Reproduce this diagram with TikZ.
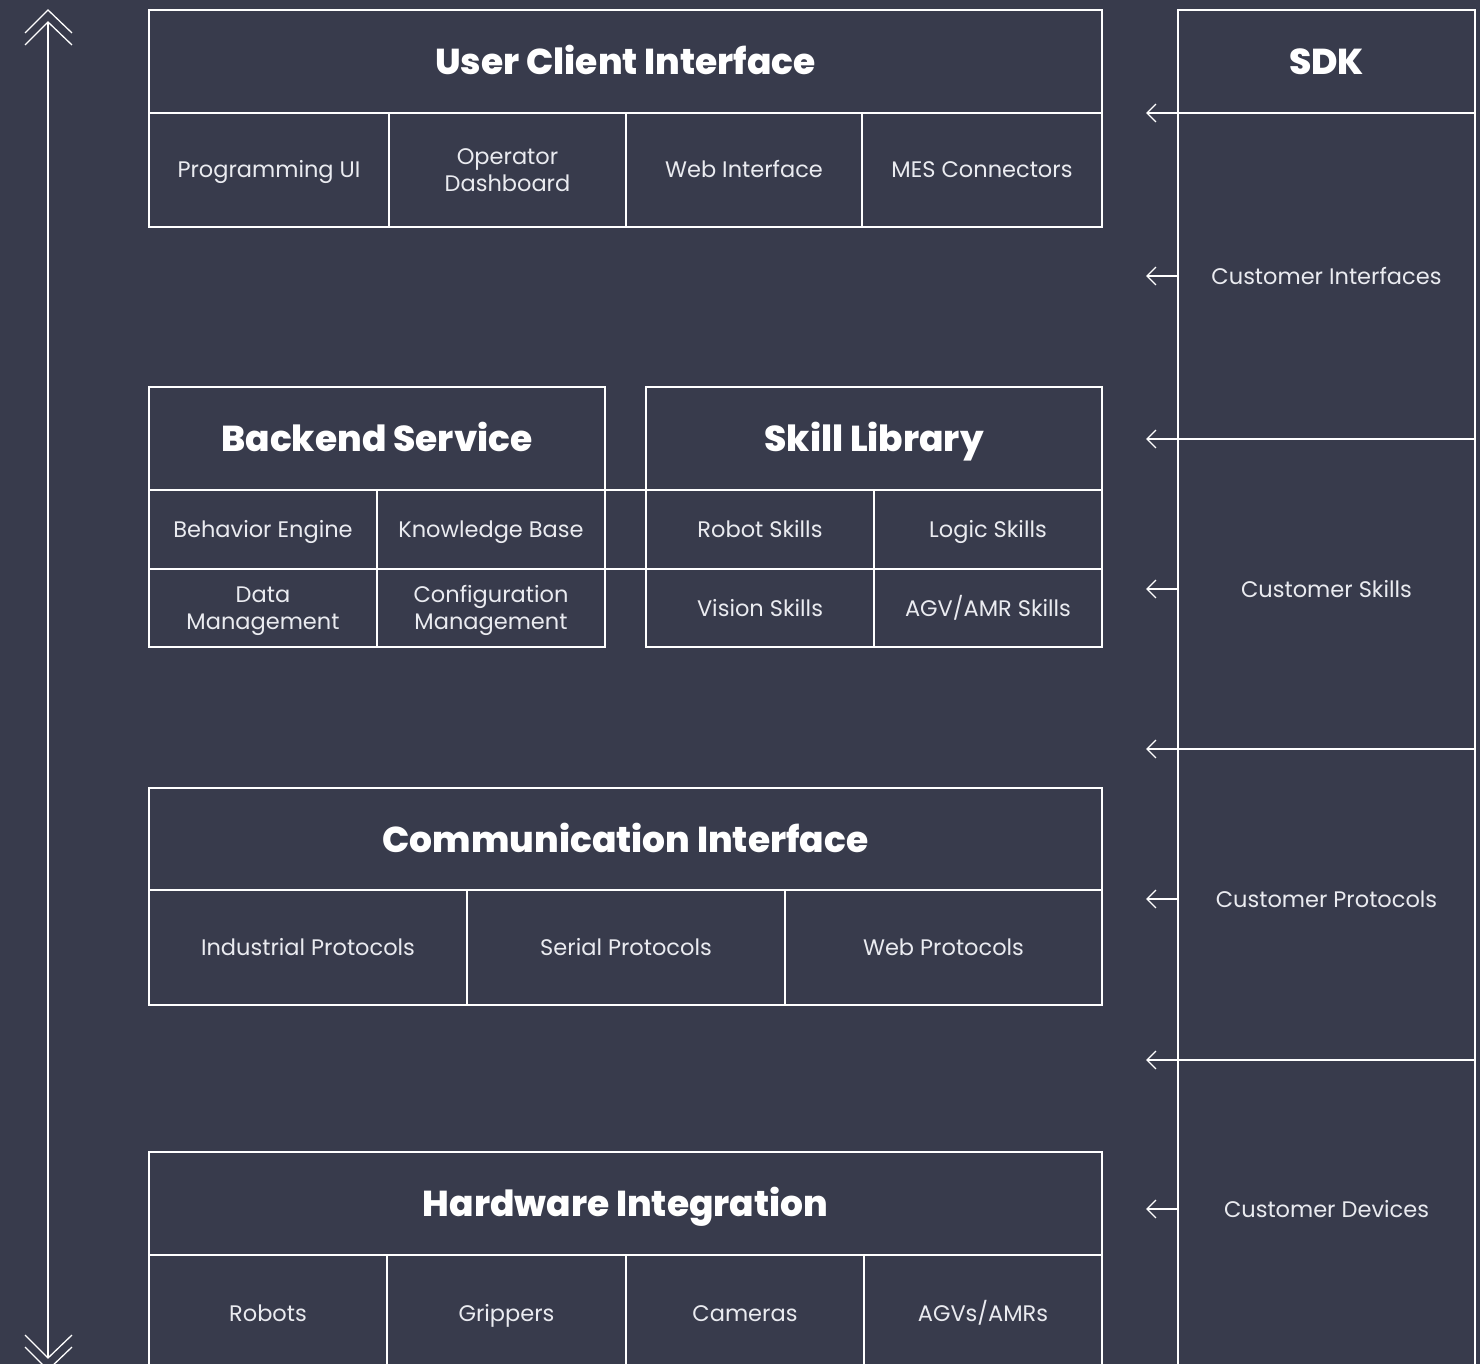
\documentclass[tikz,border=0pt]{standalone}
\usepackage{fontspec}
\setmainfont{Poppins}[BoldFont={Poppins ExtraBold}]
\usetikzlibrary{arrows.meta}
\definecolor{bg}{RGB}{56,59,76}
\definecolor{txt}{RGB}{234,235,240}
\newcommand{\mkcell}[7][box]{\node[#1, minimum width={#4-#2}, minimum height={#5-#3}] (#6) at (#2,#3) {#7};}
\begin{document}
\begin{tikzpicture}[x=1pt,y=-1pt,
  box/.style={draw=white, line width=1.3pt, inner sep=0pt, outer sep=0pt, anchor=north west, align=center, text=txt, font=\fontsize{22.5}{26.5}\selectfont, text height=16pt, text depth=0pt},
  twoline/.style={box, text height=42.5pt},
  ttl/.style={box, text=white, font=\fontsize{36}{40}\selectfont\bfseries, text height=26pt, text depth=0pt},
  lbl/.style={text=txt, font=\fontsize{22.5}{26}\selectfont, inner sep=0pt, text height=16pt, text depth=0pt},
  ln/.style={draw=white, line width=1.3pt},
  arr/.style={ln, -{Straight Barb[length=9pt,width=18pt,line width=1.3pt]}}]
\useasboundingbox (0,0) rectangle (1480,1364);
\fill[bg] (0,0) rectangle (1480,1364);
\clip (0,0) rectangle (1480,1364);
% User Client Interface
\mkcell[ttl]{149}{10}{1102}{113}{uci}{User Client Interface}
\mkcell{149}{113}{389}{227}{uci1}{Programming UI}
\mkcell[twoline]{389}{113}{626}{227}{uci2}{Operator\\Dashboard}
\mkcell{626}{113}{862}{227}{uci3}{Web Interface}
\mkcell{862}{113}{1102}{227}{uci4}{MES Connectors}
% Backend Service
\mkcell[ttl]{149}{387}{605}{490}{bs}{Backend Service}
\mkcell{149}{490}{377}{569}{bs1}{Behavior Engine}
\mkcell{377}{490}{605}{569}{bs2}{Knowledge Base}
\mkcell[twoline]{149}{569}{377}{647}{bs3}{Data\\Management}
\mkcell[twoline]{377}{569}{605}{647}{bs4}{Configuration\\Management}
% Skill Library
\mkcell[ttl]{646}{387}{1102}{490}{sl}{Skill Library}
\mkcell{646}{490}{874}{569}{sl1}{Robot Skills}
\mkcell{874}{490}{1102}{569}{sl2}{Logic Skills}
\mkcell{646}{569}{874}{647}{sl3}{Vision Skills}
\mkcell{874}{569}{1102}{647}{sl4}{AGV/AMR Skills}
\draw[ln] (bs2.north east) -- (sl1.north west);
\draw[ln] (bs2.south east) -- (sl1.south west);
% Communication Interface
\mkcell[ttl]{149}{788}{1102}{890}{ci}{Communication Interface}
\mkcell{149}{890}{467}{1005}{ci1}{Industrial Protocols}
\mkcell{467}{890}{785}{1005}{ci2}{Serial Protocols}
\mkcell{785}{890}{1102}{1005}{ci3}{Web Protocols}
% Hardware Integration
\mkcell[ttl]{149}{1152}{1102}{1255}{hi}{Hardware Integration}
\mkcell{149}{1255}{387}{1371}{hi1}{Robots}
\mkcell{387}{1255}{626}{1371}{hi2}{Grippers}
\mkcell{626}{1255}{864}{1371}{hi3}{Cameras}
\mkcell{864}{1255}{1102}{1371}{hi4}{AGVs/AMRs}
% SDK
\mkcell[ttl]{1178}{10}{1475}{113}{sdk}{SDK}
\mkcell{1178}{113}{1475}{439}{s1}{}
\mkcell{1178}{439}{1475}{749}{s2}{}
\mkcell{1178}{749}{1475}{1060}{s3}{}
\mkcell{1178}{1060}{1475}{1390}{s4}{}
\node[lbl] (t1) at (1326.5,276) {Customer Interfaces};
\node[lbl] (t2) at (1326.5,589) {Customer Skills};
\node[lbl] (t3) at (1326.5,899) {Customer Protocols};
\node[lbl] (t4) at (1326.5,1209) {Customer Devices};
\draw[arr] (sdk.south west) -- ++(-32,0);
\draw[arr] (t1 -| s1.west) -- ++(-32,0);
\draw[arr] (s2.north west) -- ++(-32,0);
\draw[arr] (t2 -| s2.west) -- ++(-32,0);
\draw[arr] (s3.north west) -- ++(-32,0);
\draw[arr] (t3 -| s3.west) -- ++(-32,0);
\draw[arr] (s4.north west) -- ++(-32,0);
\draw[arr] (t4 -| s4.west) -- ++(-32,0);
% left double arrow
\coordinate (la) at (48,22);
\coordinate (lb) at (48,1358);
\draw[ln] (la) -- (lb);
\draw[ln] (25,33) -- (48,10) -- (72,33);
\draw[ln] (25,45) -- (la) -- (72,45);
\draw[ln] (25,1335) -- (lb) -- (72,1335);
\draw[ln] (25,1347) -- (48,1370) -- (72,1347);
\end{tikzpicture}
\end{document}
